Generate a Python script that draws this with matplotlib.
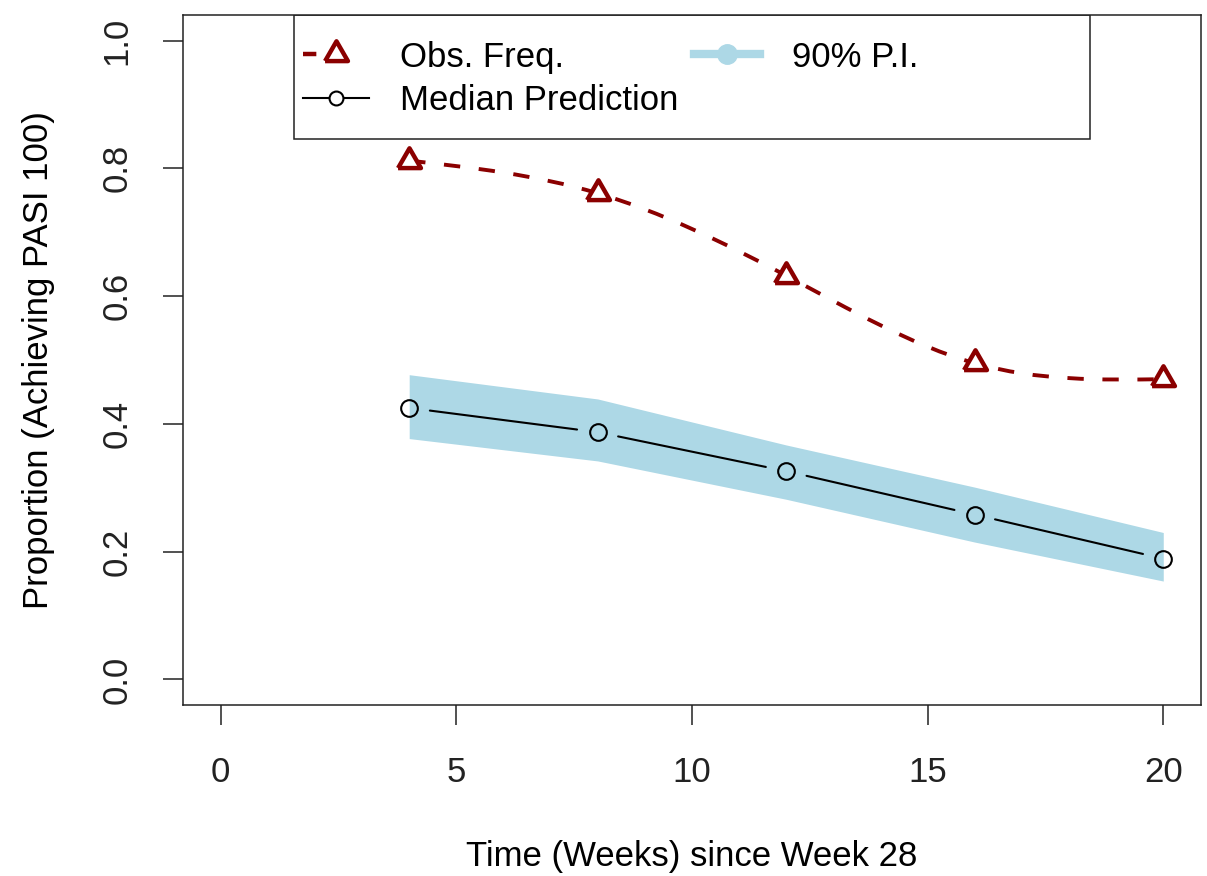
import matplotlib
matplotlib.use("Agg")
import matplotlib.pyplot as plt
import numpy as np
from matplotlib.lines import Line2D
from matplotlib.patches import Rectangle, PathPatch
from matplotlib.path import Path

plt.rcParams['font.family'] = ['Liberation Sans', 'DejaVu Sans']

weeks = [4, 8, 12, 16, 20]
obs_freq = [0.812, 0.761, 0.632, 0.495, 0.470]
median_pred = [0.425, 0.387, 0.326, 0.258, 0.189]
pi_upper = [0.477, 0.439, 0.367, 0.301, 0.230]
pi_lower = [0.377, 0.342, 0.282, 0.215, 0.154]

x_ticks = [0, 5, 10, 15, 20]
y_ticks = [0.0, 0.2, 0.4, 0.6, 0.8, 1.0]

DARKRED = '#8B0000'
LIGHTBLUE = '#ADD8E6'
FS = 25


def spline_path(xs, ys):
    """Natural cubic spline through the points, as a bezier Path."""
    xs = np.asarray(xs, float)
    ys = np.asarray(ys, float)
    n = len(xs)
    h = np.diff(xs)
    A = np.zeros((n, n))
    b = np.zeros(n)
    A[0, 0] = A[-1, -1] = 1.0
    for i in range(1, n - 1):
        A[i, i - 1] = h[i - 1]
        A[i, i] = 2 * (h[i - 1] + h[i])
        A[i, i + 1] = h[i]
        b[i] = 6 * ((ys[i + 1] - ys[i]) / h[i] - (ys[i] - ys[i - 1]) / h[i - 1])
    M = np.linalg.solve(A, b)
    # first derivatives at the knots
    d = np.zeros(n)
    for i in range(n - 1):
        d[i] = (ys[i + 1] - ys[i]) / h[i] - h[i] * (2 * M[i] + M[i + 1]) / 6
    d[-1] = (ys[-1] - ys[-2]) / h[-1] + h[-1] * (M[-2] + 2 * M[-1]) / 6
    verts = [(xs[0], ys[0])]
    codes = [Path.MOVETO]
    for i in range(n - 1):
        verts += [(xs[i] + h[i] / 3, ys[i] + d[i] * h[i] / 3),
                  (xs[i + 1] - h[i] / 3, ys[i + 1] - d[i + 1] * h[i] / 3),
                  (xs[i + 1], ys[i + 1])]
        codes += [Path.CURVE4] * 3
    return Path(verts, codes)


# equilateral open triangle, like R's pch = 2
tri = [(-1, -0.577), (1, -0.577), (0, 1.155), (-1, -0.577)]

fig = plt.figure(figsize=(12.07, 8.76), dpi=100)
ax = fig.add_axes([0.1516, 0.1952, 0.8434, 0.7877])
ax.set_xlim(-0.8, 20.8)
ax.set_ylim(-0.04, 1.04)

# 90% prediction interval band
ax.fill_between(weeks, pi_lower, pi_upper, color=LIGHTBLUE, lw=0, zorder=1)

# median prediction: segments with gaps round the points
for i in range(len(weeks) - 1):
    ax.annotate('', xy=(weeks[i + 1], median_pred[i + 1]), xytext=(weeks[i], median_pred[i]),
                arrowprops=dict(arrowstyle='-', color='black', lw=1.5,
                                shrinkA=15, shrinkB=15), zorder=2)
ax.plot(weeks, median_pred, ls='none', marker='o', ms=12, mfc='none',
        mec='black', mew=1.5, zorder=3)

# observed frequency, smooth dashed curve
curve = PathPatch(spline_path(weeks, obs_freq), fill=False, edgecolor=DARKRED,
                  lw=2.8, linestyle=(0, (4.2, 4.8)), capstyle='butt', zorder=2)
ax.add_patch(curve)
ax.plot(weeks, obs_freq, ls='none', marker=tri, ms=19, mfc='white',
        mec=DARKRED, mew=3.2, zorder=4)

ax.set_xticks(x_ticks)
ax.set_xticklabels([str(t) for t in x_ticks])
ax.set_yticks(y_ticks)
ax.set_yticklabels([f'{t:.1f}' for t in y_ticks], rotation=90, va='center')
ax.tick_params(direction='out', length=14.5, width=1.1, labelsize=FS, colors='#222222')
ax.tick_params(axis='x', pad=22)
ax.tick_params(axis='y', pad=21)
for s in ax.spines.values():
    s.set_linewidth(1.1)
    s.set_color('#222222')

ax.set_xlabel('Time (Weeks) since Week 28', fontsize=FS, va='center')
ax.xaxis.set_label_coords(0.5, -0.22)
ax.set_ylabel('Proportion (Achieving PASI 100)', fontsize=FS, va='center')
ax.yaxis.set_label_coords(-0.142, 0.5)

# legend
h_obs = Line2D([], [], color=DARKRED, lw=3.2, dashes=(3, 20), marker=tri, ms=19,
               mfc='white', mec=DARKRED, mew=3.2)
h_med = Line2D([], [], color='black', lw=1.5, marker='o', ms=10, mfc='white',
               mec='black', mew=1.5)
h_pi = Line2D([], [], color=LIGHTBLUE, lw=6, marker='o', ms=14, mfc=LIGHTBLUE,
              mec=LIGHTBLUE)
ax.legend([h_obs, h_med, h_pi], ['Obs. Freq.', 'Median Prediction', '90% P.I.'],
          ncol=2, loc='upper left', bbox_to_anchor=(0.118, 0.963), frameon=False,
          fontsize=FS, handlelength=1.9, handletextpad=0.9, columnspacing=0.45,
          labelspacing=0.31, borderpad=0, borderaxespad=0)
ax.add_patch(Rectangle((0.109, 0.82), 0.782, 0.18, transform=ax.transAxes,
                       fill=False, edgecolor='#222222', lw=1.1, zorder=5))

fig.savefig('out.png', dpi=100)
